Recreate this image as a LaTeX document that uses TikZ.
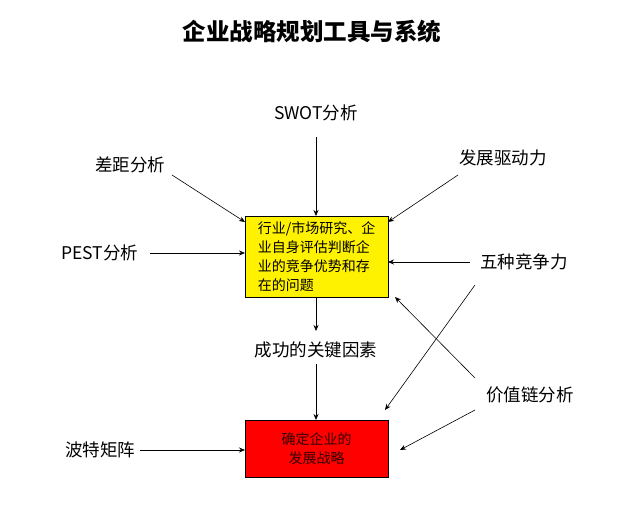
\documentclass[tikz,border=0pt]{standalone}
\usepackage{fontspec}
\setmainfont{Noto Sans CJK SC}
\usetikzlibrary{arrows.meta}
\begin{document}
\begin{tikzpicture}[x=1pt,y=-1pt,
  lbl/.style={font=\fontsize{17.5}{20}\selectfont,inner sep=1pt},
  arr/.style={-{Stealth[length=6pt,width=5pt]},line width=0.6pt}]
\useasboundingbox (0,0) rectangle (632,504);
\node[font=\fontsize{23.5}{26}\selectfont\bfseries] (title) at (312,32) {企业战略规划工具与系统};
\node[draw,fill=yellow,minimum width=143pt,minimum height=81pt,anchor=north west,inner sep=0pt] (y) at (245,216) {};
\node[font=\fontsize{14}{19}\selectfont,align=left] (yt) at (y.center) {行业/市场研究、企\\业自身评估判断企\\业的竞争优势和存\\在的问题};
\node[draw,fill=red,minimum width=143pt,minimum height=57pt,anchor=north west,inner sep=0pt,
  font=\fontsize{14}{19}\selectfont,text=black!80!red,align=center] (r) at (245,420) {确定企业的\\发展战略};
\node[lbl] (swot) at (316,113) {SWOT分析};
\node[lbl] (gap) at (130,165) {差距分析};
\node[lbl] (drv) at (503,158) {发展驱动力};
\node[lbl] (pest) at (100,253) {PEST分析};
\node[lbl] (five) at (524,262) {五种竞争力};
\node[lbl] (ksf) at (316,350) {成功的关键因素};
\node[lbl] (vc) at (530,395) {价值链分析};
\node[lbl] (bcg) at (100,450) {波特矩阵};
\coordinate (ytop) at (316,216);
\draw[arr] (316,137) -- (ytop);
\draw[arr] (172,175) -- (245,222);
\draw[arr] (458,175) -- (388,222);
\draw[arr] (150,253) -- (245,253);
\draw[arr] (470,262) -- (388,262);
\draw[arr] (316,297) -- (316,331);
\draw[arr] (316,364) -- (316,420);
\draw[arr] (475,378) -- (395,297);
\draw[arr] (475,410) -- (400,450);
\draw[arr] (475,285) -- (385,410);
\draw[arr] (140,450) -- (245,450);
\end{tikzpicture}
\end{document}
